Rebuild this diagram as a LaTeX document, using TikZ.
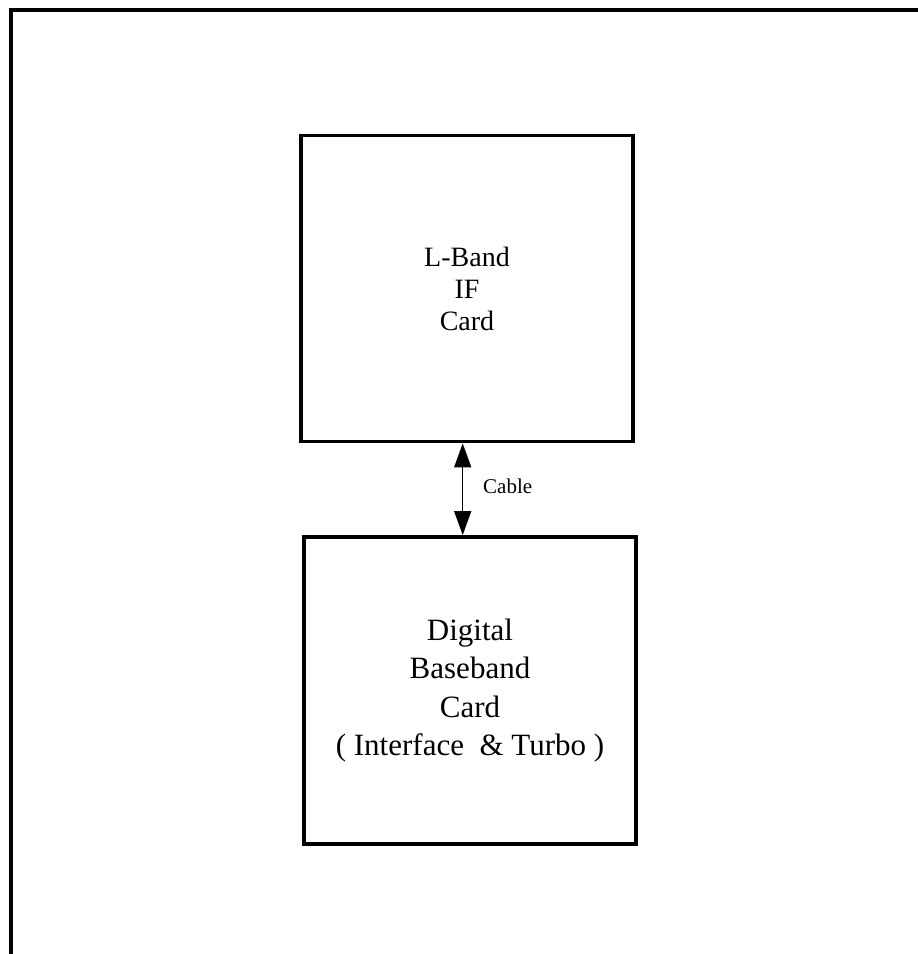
\documentclass[tikz,border=0pt]{standalone}
\usepackage{fontspec}
\setmainfont{Liberation Serif}
\usetikzlibrary{arrows.meta}
\begin{document}
\begin{tikzpicture}[x=1pt,y=-1pt,
  cardbox/.style={draw=black, line width=3.8pt, minimum width=332pt, align=center, inner sep=0pt},
  toptext/.style={font=\fontsize{28}{32}\selectfont},
  bottext/.style={font=\fontsize{31}{38.5}\selectfont},
  cablearrow/.style={line width=1.5pt, {Triangle[width=17pt,length=24pt]}-{Triangle[width=17pt,length=24pt]}},
  frameline/.style={line width=4pt, line join=miter}]
\useasboundingbox (0,0) rectangle (918,954);
\fill[white] (0,0) rectangle (918,954);
% outer frame (only top and left edges visible)
\coordinate (fbl) at (10.5,954);
\coordinate (ftl) at (10.5,10);
\coordinate (ftr) at (918,10);
\draw[frameline] (fbl) -- (ftl) -- (ftr);
% cards
\node[cardbox, toptext, minimum height=306pt] (ifcard) at (467,288.5) {L-Band\\IF\\Card};
\node[cardbox, bottext, minimum height=307pt] (bbcard) at (470,690.5)
  {\raisebox{0pt}[\height][\depth]{Digital}\\Baseband\hspace{18pt}\\Card\\( Interface\ \ \& Turbo )};
% cable
\coordinate (ax) at (462.7,0);
\draw[cablearrow] (ifcard.south -| ax) -- (bbcard.north -| ax);
\node[anchor=base west, font=\fontsize{21}{24}\selectfont, inner sep=0pt] (cable) at (483,493) {Cable};
\end{tikzpicture}
\end{document}
